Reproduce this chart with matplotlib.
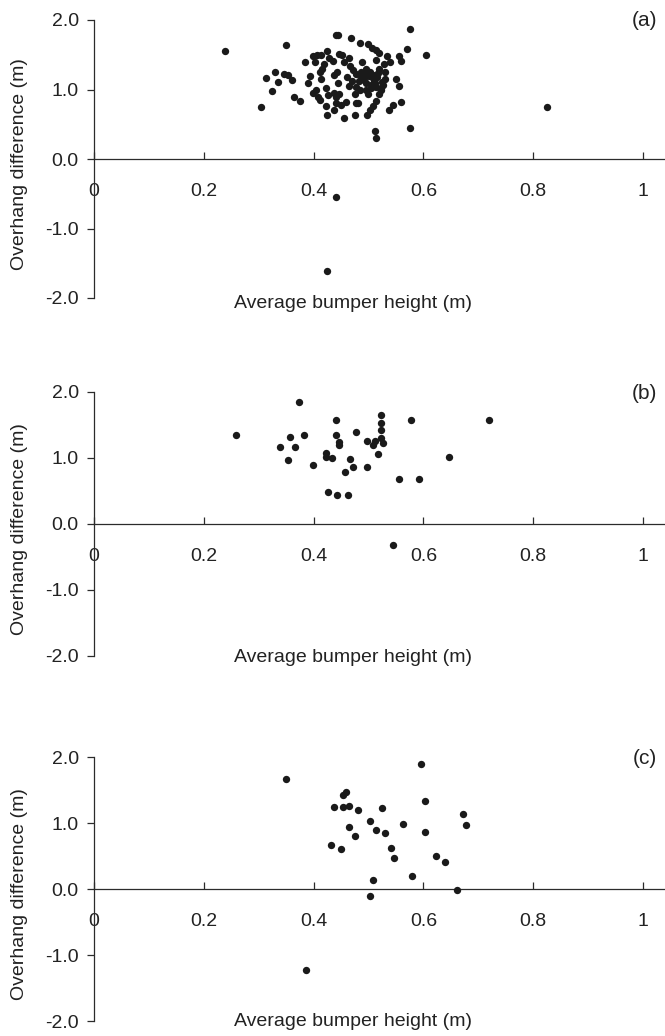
"""Overhang difference vs average bumper height, three panels."""

import matplotlib

matplotlib.use("Agg")
import matplotlib.pyplot as plt

# panel (a)
a_x = [0.239, 0.350, 0.305, 0.330, 0.314, 0.335, 0.346, 0.353, 0.360, 0.324,
       0.365, 0.375, 0.384, 0.399, 0.406, 0.414, 0.424, 0.402, 0.419, 0.435,
       0.440, 0.445, 0.469, 0.484, 0.499, 0.506, 0.513, 0.520, 0.446, 0.452,
       0.464, 0.455, 0.467, 0.489, 0.513, 0.534, 0.555, 0.559, 0.570, 0.575,
       0.605, 0.528, 0.520, 0.415, 0.412, 0.442, 0.438, 0.394, 0.390, 0.414,
       0.472, 0.478, 0.487, 0.495, 0.502, 0.508, 0.490, 0.500, 0.515, 0.482,
       0.496, 0.510, 0.525, 0.530, 0.478, 0.484, 0.496, 0.505, 0.514, 0.522,
       0.476, 0.499, 0.520, 0.523, 0.550, 0.555, 0.405, 0.399, 0.408, 0.411,
       0.423, 0.426, 0.437, 0.447, 0.440, 0.423, 0.441, 0.450, 0.459, 0.478,
       0.438, 0.425, 0.455, 0.476, 0.480, 0.514, 0.508, 0.502, 0.498, 0.559,
       0.544, 0.538, 0.511, 0.514, 0.575, 0.825, 0.440, 0.424, 0.445, 0.465,
       0.530, 0.540, 0.428, 0.492, 0.504, 0.518, 0.486, 0.509, 0.470, 0.527,
       0.494, 0.512, 0.460]
a_y = [1.56, 1.64, 0.75, 1.25, 1.17, 1.11, 1.22, 1.21, 1.135, 0.98,
       0.89, 0.84, 1.40, 1.48, 1.49, 1.50, 1.55, 1.40, 1.37, 1.41,
       1.79, 1.79, 1.74, 1.67, 1.66, 1.60, 1.57, 1.53, 1.51, 1.50,
       1.46, 1.39, 1.34, 1.40, 1.42, 1.48, 1.48, 1.41, 1.58, 1.87,
       1.50, 1.365, 1.30, 1.30, 1.25, 1.25, 1.21, 1.20, 1.10, 1.15,
       1.28, 1.22, 1.25, 1.30, 1.25, 1.21, 1.17, 1.19, 1.18, 1.12,
       1.10, 1.12, 1.11, 1.15, 1.04, 0.99, 0.99, 1.02, 1.04, 0.99,
       0.94, 0.94, 0.94, 1.02, 1.15, 1.05, 0.99, 0.95, 0.895, 0.85,
       1.02, 0.92, 0.95, 0.93, 0.89, 0.76, 0.80, 0.78, 0.82, 0.80,
       0.70, 0.63, 0.585, 0.63, 0.81, 0.83, 0.76, 0.70, 0.63, 0.82,
       0.78, 0.71, 0.40, 0.30, 0.44, 0.75, -0.55, -1.605, 1.10, 1.05,
       1.25, 1.40, 1.45, 1.14, 1.07, 1.24, 1.20, 1.16, 1.12, 1.06,
       1.22, 1.09, 1.18]

# panel (b)
b_x = [0.258, 0.373, 0.338, 0.357, 0.383, 0.367, 0.353, 0.398, 0.441, 0.441,
       0.447, 0.447, 0.477, 0.422, 0.422, 0.433, 0.467, 0.472, 0.457, 0.497,
       0.497, 0.508, 0.512, 0.522, 0.526, 0.518, 0.522, 0.522, 0.522, 0.577,
       0.720, 0.646, 0.556, 0.592, 0.427, 0.442, 0.462, 0.544]
b_y = [1.35, 1.845, 1.17, 1.32, 1.35, 1.17, 0.97, 0.90, 1.58, 1.35,
       1.24, 1.19, 1.39, 1.08, 1.02, 1.00, 0.99, 0.865, 0.79, 0.865,
       1.265, 1.19, 1.265, 1.30, 1.22, 1.065, 1.645, 1.53, 1.43, 1.57,
       1.57, 1.01, 0.685, 0.685, 0.48, 0.44, 0.44, -0.32]

# panel (c)
c_x = [0.350, 0.387, 0.596, 0.602, 0.602, 0.562, 0.672, 0.678, 0.622, 0.639,
       0.580, 0.662, 0.508, 0.502, 0.453, 0.459, 0.437, 0.453, 0.465, 0.481,
       0.525, 0.464, 0.476, 0.502, 0.513, 0.530, 0.432, 0.449, 0.541, 0.547]
c_y = [1.67, -1.22, 1.90, 1.33, 0.865, 0.99, 1.13, 0.965, 0.50, 0.41,
       0.19, -0.01, 0.14, -0.10, 1.42, 1.47, 1.245, 1.245, 1.255, 1.20,
       1.23, 0.945, 0.81, 1.03, 0.90, 0.855, 0.665, 0.61, 0.62, 0.47]

x_ticks = [0, 0.2, 0.4, 0.6, 0.8, 1]
x_labels = ["0", "0.2", "0.4", "0.6", "0.8", "1"]
y_ticks = [-2, -1, 0, 1, 2]
y_labels = ["-2.0", "-1.0", "0.0", "1.0", "2.0"]

panels = [("(a)", a_x, a_y), ("(b)", b_x, b_y), ("(c)", c_x, c_y)]

plt.rcParams["font.family"] = ["Liberation Sans", "DejaVu Sans"]

W, H = 665, 1036
fig = plt.figure(figsize=(W / 100, H / 100), dpi=100)

# pixel rows: y=+2 edge, y=-2 edge, panel tag, x label
rows = [(20, 298, 21, 303), (392, 656, 393, 658), (757, 1021, 759, 1021)]
left_px, right_px = 94, 665
ink = "#2b2b2b"
txt = "#222222"

for (tag, xs, ys), (top, bot, tag_y, lab_y) in zip(panels, rows):
    ax = fig.add_axes([left_px / W, 1 - bot / H, (right_px - left_px) / W, (bot - top) / H])
    ax.set_xlim(0, 1.04)
    ax.set_ylim(-2, 2)
    ax.patch.set_alpha(0)
    ax.scatter(xs, ys, s=28, color="#1a1a1a", linewidths=0, zorder=3, clip_on=False)

    for side in ("top", "right"):
        ax.spines[side].set_visible(False)
    ax.spines["bottom"].set_position(("data", 0))
    for side in ("left", "bottom"):
        ax.spines[side].set_color(ink)
        ax.spines[side].set_linewidth(0.9)

    ax.set_xticks(x_ticks, x_labels)
    ax.set_yticks(y_ticks, y_labels)
    ax.tick_params(axis="x", direction="in", length=5, width=0.9, color=ink,
                   pad=17, labelsize=14, labelcolor=txt)
    ax.tick_params(axis="y", direction="out", length=5, width=0.9, color=ink,
                   pad=6, labelsize=14, labelcolor=txt)

    ax.set_ylabel("Overhang difference (m)", fontsize=14, color=txt)
    ax.yaxis.set_label_coords(-0.115, 0.48)
    fig.text(353 / W, 1 - lab_y / H, "Average bumper height (m)", ha="center",
             va="center", fontsize=14, color=txt)
    fig.text(657 / W, 1 - tag_y / H, tag, ha="right", va="center", fontsize=15, color=txt)

fig.savefig("out.png", dpi=100)
